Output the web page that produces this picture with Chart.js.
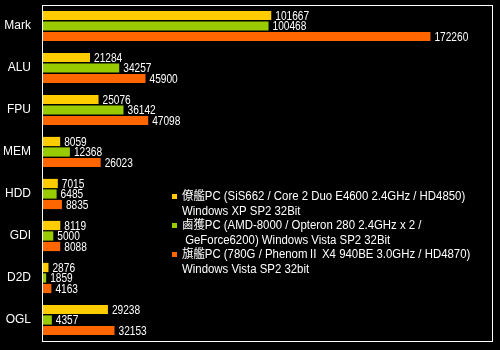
<!DOCTYPE html>
<html>
<head>
<meta charset="utf-8">
<script src="https://cdn.jsdelivr.net/npm/chart.js@4"></script>
<style>
  html, body { margin: 0; padding: 0; background: #000; }
  #wrap { width: 500px; height: 350px; }
</style>
</head>
<body>
<div id="wrap"><canvas id="bench"></canvas></div>
<script>
const categories = ['Mark', 'ALU', 'FPU', 'MEM', 'HDD', 'GDI', 'D2D', 'OGL'];

// one row of scores per machine
const ryoukanScores = [101667, 21284, 25076, 8059, 7015, 8119, 2876, 29238];
const rokakuScores = [100468, 34257, 36142, 12368, 6485, 5000, 1859, 4357];
const kikanScores = [172260, 45900, 47098, 26023, 8835, 8088, 4163, 32153];

// legend text, one entry per machine, split over two lines
const ryoukanLabel = ['僚艦PC (SiS662 / Core 2 Duo E4600 2.4GHz / HD4850)', 'Windows XP SP2 32Bit'];
const rokakuLabel = ['鹵獲PC (AMD-8000 / Opteron 280 2.4GHz x 2 /', ' GeForce6200) Windows Vista SP2 32Bit'];
const kikanLabel = ['旗艦PC (780G / PhenomⅡ X4 940BE 3.0GHz / HD4870)', 'Windows Vista SP2 32bit'];

const xMax = 200000;

const numFont = '13px "Liberation Sans", sans-serif';
const textFont = '12px "Liberation Sans", "Noto Sans CJK JP", sans-serif';

// white frame round the plot area
const framePlugin = {
  id: 'frame',
  afterDraw(chart) {
    const {ctx, chartArea: a} = chart;
    ctx.save();
    ctx.strokeStyle = '#fff';
    ctx.lineWidth = 1;
    ctx.strokeRect(a.left + 0.5, a.top + 0.5, a.right - a.left - 1, a.bottom - a.top);
    ctx.restore();
  },
};

// score printed just past the end of each bar, squeezed sideways
const valuePlugin = {
  id: 'values',
  afterDatasetsDraw(chart) {
    const {ctx} = chart;
    chart.data.datasets.forEach((ds, i) => {
      chart.getDatasetMeta(i).data.forEach((bar, j) => {
        ctx.save();
        ctx.fillStyle = '#fff';
        ctx.font = numFont;
        ctx.textAlign = 'left';
        ctx.textBaseline = 'middle';
        ctx.translate(bar.x + 4, bar.y + 0.5);
        ctx.scale(0.78, 1);
        ctx.fillText(String(ds.data[j]), 0, 0);
        ctx.restore();
      });
    });
  },
};

// two-line legend placed inside the plot, lower right
const legendPlugin = {
  id: 'boxLegend',
  afterDraw(chart) {
    const {ctx} = chart;
    const lineH = 14.5;
    let y = 197;
    ctx.save();
    ctx.font = textFont;
    ctx.textBaseline = 'middle';
    ctx.textAlign = 'left';
    chart.data.datasets.forEach(ds => {
      ctx.fillStyle = ds.backgroundColor;
      ctx.fillRect(172, y - 3, 5, 5);
      ctx.fillStyle = '#fff';
      ds.lines.forEach((line, k) => {
        ctx.save();
        ctx.translate(182, y + k * lineH);
        ctx.scale(0.95, 1);
        ctx.fillText(line, 0, 0);
        ctx.restore();
      });
      y += lineH * ds.lines.length;
    });
    ctx.restore();
  },
};

new Chart(document.getElementById('bench'), {
  type: 'bar',
  data: {
    labels: categories,
    datasets: [
      {label: ryoukanLabel.join(' '), lines: ryoukanLabel, data: ryoukanScores, backgroundColor: '#ffcc00'},
      {label: rokakuLabel.join(' '), lines: rokakuLabel, data: rokakuScores, backgroundColor: '#99cc00'},
      {label: kikanLabel.join(' '), lines: kikanLabel, data: kikanScores, backgroundColor: '#ff6600'},
    ],
  },
  options: {
    indexAxis: 'y',
    responsive: true,
    maintainAspectRatio: false,
    animation: false,
    categoryPercentage: 0.75,
    barPercentage: 0.88,
    layout: {padding: {left: 0, right: 7, top: 5, bottom: 9}},
    plugins: {
      legend: {display: false},
      tooltip: {enabled: false},
    },
    scales: {
      x: {
        display: false,
        min: 0,
        max: xMax,
      },
      y: {
        grid: {display: false, drawTicks: false},
        border: {display: false},
        afterFit(scale) {
          scale.width = 42;
          // labels sit beside their rows, so no room is needed above or below
          scale.paddingTop = 0;
          scale.paddingBottom = 0;
        },
        ticks: {
          color: '#fff',
          padding: 11,
          font: {family: '"Liberation Sans", sans-serif', size: 12},
        },
      },
    },
  },
  plugins: [framePlugin, valuePlugin, legendPlugin],
});
</script>
</body>
</html>
